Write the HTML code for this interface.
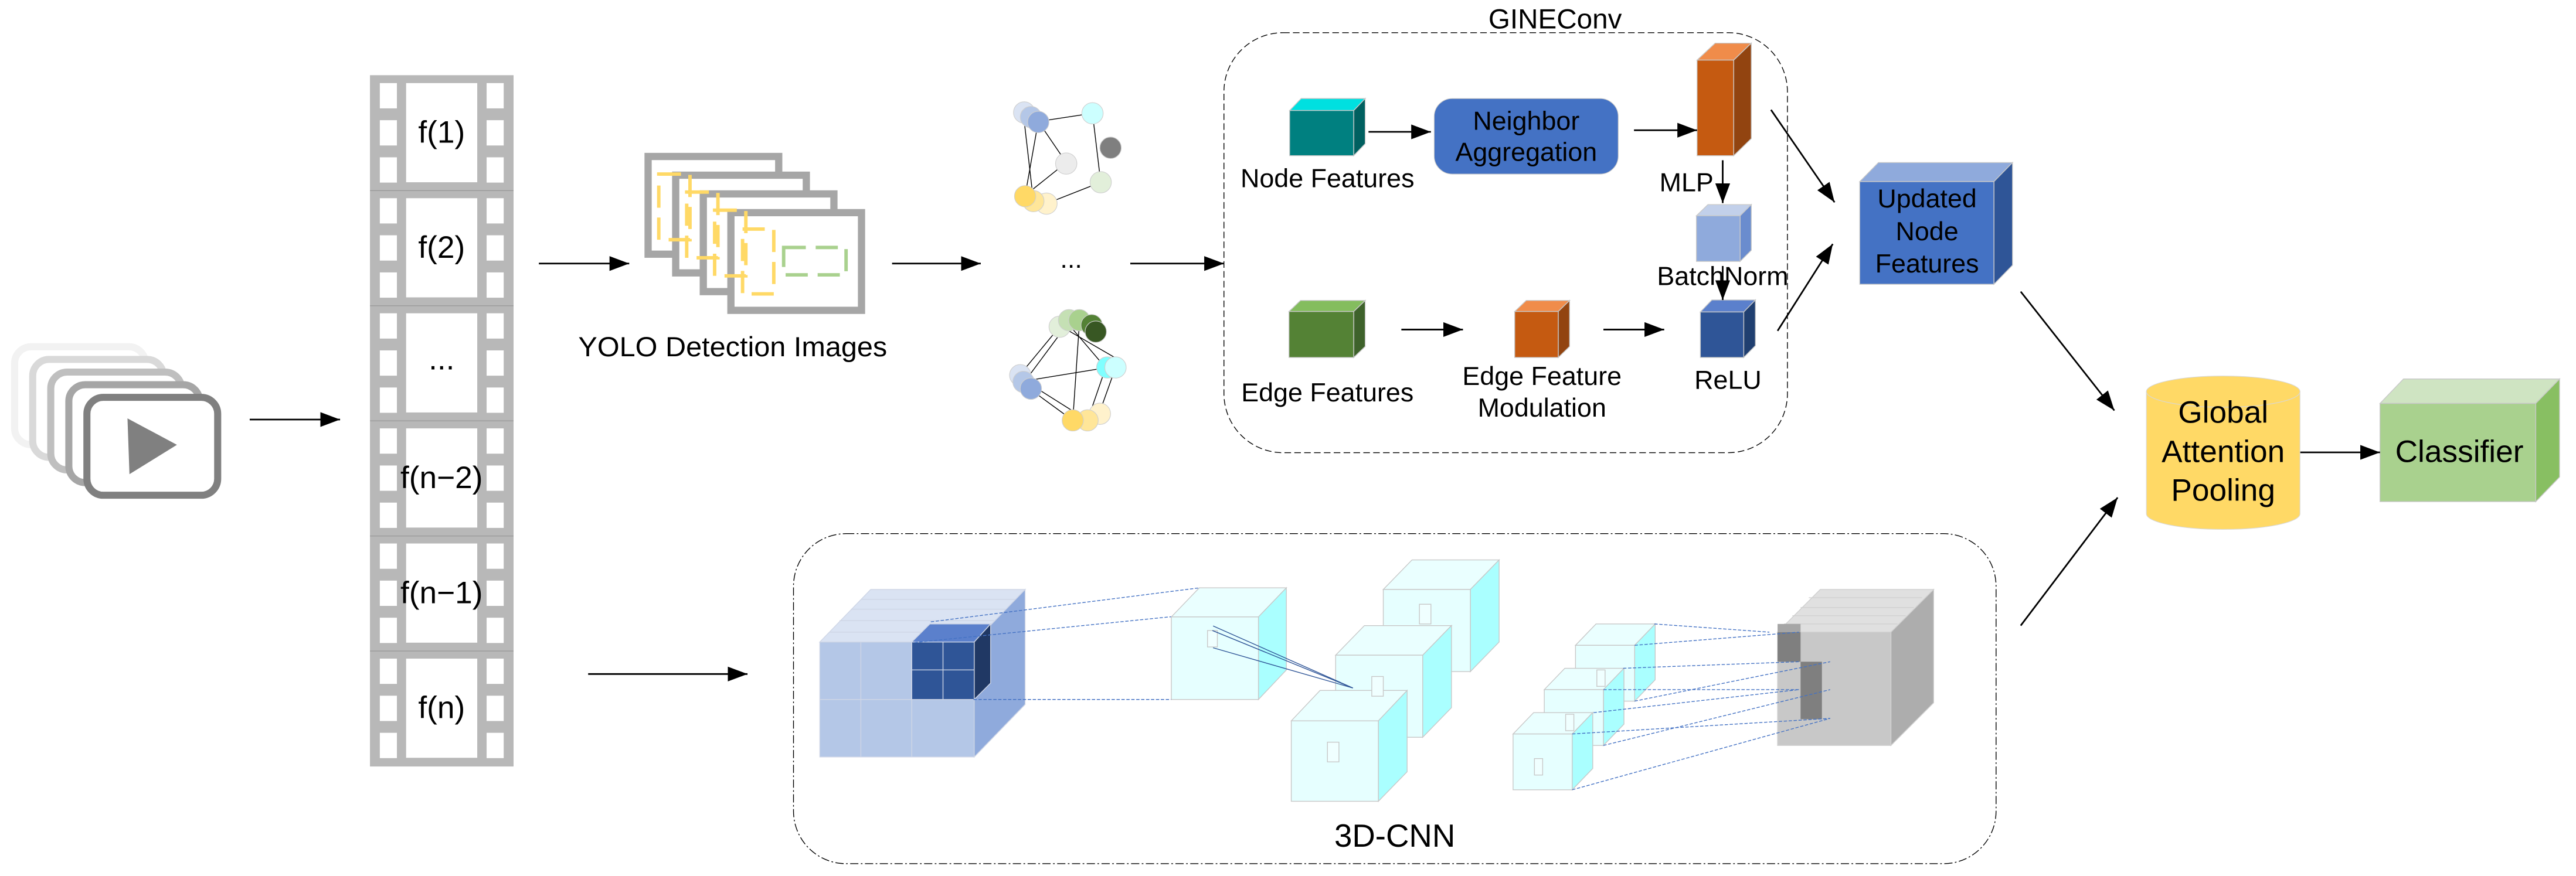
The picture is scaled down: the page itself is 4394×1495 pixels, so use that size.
<!DOCTYPE html>
<html><head><meta charset="utf-8"><style>
html,body{margin:0;padding:0;background:#fff;}
svg{display:block;}
text{font-family:"Liberation Sans",Arial,sans-serif;fill:#000;}
</style></head><body>
<svg width="4394" height="1495" viewBox="0 0 1568 533.5" preserveAspectRatio="none" xmlns="http://www.w3.org/2000/svg">
<defs>
<marker id="ah" viewBox="0 0 12 9" refX="12" refY="4.5" markerWidth="12" markerHeight="9" markerUnits="userSpaceOnUse" orient="auto">
<path d="M0,0 L12,4.5 L0,9 z" fill="#000"/>
</marker>
</defs>
<rect width="1568" height="533.5" fill="#fff"/>

<!-- video icon stack -->
<g fill="#fff" stroke-width="4.3">
<rect x="8.9" y="211.2" width="79.6" height="59.6" rx="10" stroke="#f2f2f2"/>
<rect x="19.9" y="218.9" width="79.6" height="59.6" rx="10" stroke="#d9d9d9"/>
<rect x="30.9" y="226.6" width="79.6" height="59.6" rx="10" stroke="#bfbfbf"/>
<rect x="41.9" y="234.3" width="79.6" height="59.6" rx="10" stroke="#a6a6a6"/>
<rect x="52.9" y="242" width="79.6" height="59.6" rx="10" stroke="#808080"/>
</g>
<path d="M77.6,254.8 L78.8,288.8 L107.7,270.9 z" fill="#808080"/>

<line x1="152" y1="255.5" x2="207" y2="255.5" stroke="#000" stroke-width="1" marker-end="url(#ah)"/>

<!-- film strip -->
<rect x="225.2" y="45.8" width="87.4" height="421" fill="#b8b8b8"/>
<g fill="#fff">
<rect x="247.2" y="50.6" width="43.3" height="60.4"/><rect x="247.2" y="120.7" width="43.3" height="60.4"/><rect x="247.2" y="190.8" width="43.3" height="60.4"/><rect x="247.2" y="260.9" width="43.3" height="60.4"/><rect x="247.2" y="331" width="43.3" height="60.4"/><rect x="247.2" y="401.1" width="43.3" height="60.4"/>
</g>
<g fill="#fff">
<rect x="231.2" y="50.6" width="10.4" height="15.4"/><rect x="231.2" y="73.2" width="10.4" height="15.4"/><rect x="231.2" y="95.8" width="10.4" height="15.4"/>
<rect x="296.2" y="50.6" width="10.4" height="15.4"/><rect x="296.2" y="73.2" width="10.4" height="15.4"/><rect x="296.2" y="95.8" width="10.4" height="15.4"/>
<rect x="231.2" y="120.7" width="10.4" height="15.4"/><rect x="231.2" y="143.3" width="10.4" height="15.4"/><rect x="231.2" y="165.9" width="10.4" height="15.4"/>
<rect x="296.2" y="120.7" width="10.4" height="15.4"/><rect x="296.2" y="143.3" width="10.4" height="15.4"/><rect x="296.2" y="165.9" width="10.4" height="15.4"/>
<rect x="231.2" y="190.8" width="10.4" height="15.4"/><rect x="231.2" y="213.4" width="10.4" height="15.4"/><rect x="231.2" y="236" width="10.4" height="15.4"/>
<rect x="296.2" y="190.8" width="10.4" height="15.4"/><rect x="296.2" y="213.4" width="10.4" height="15.4"/><rect x="296.2" y="236" width="10.4" height="15.4"/>
<rect x="231.2" y="260.9" width="10.4" height="15.4"/><rect x="231.2" y="283.5" width="10.4" height="15.4"/><rect x="231.2" y="306.1" width="10.4" height="15.4"/>
<rect x="296.2" y="260.9" width="10.4" height="15.4"/><rect x="296.2" y="283.5" width="10.4" height="15.4"/><rect x="296.2" y="306.1" width="10.4" height="15.4"/>
<rect x="231.2" y="331" width="10.4" height="15.4"/><rect x="231.2" y="353.6" width="10.4" height="15.4"/><rect x="231.2" y="376.2" width="10.4" height="15.4"/>
<rect x="296.2" y="331" width="10.4" height="15.4"/><rect x="296.2" y="353.6" width="10.4" height="15.4"/><rect x="296.2" y="376.2" width="10.4" height="15.4"/>
<rect x="231.2" y="401.1" width="10.4" height="15.4"/><rect x="231.2" y="423.7" width="10.4" height="15.4"/><rect x="231.2" y="446.3" width="10.4" height="15.4"/>
<rect x="296.2" y="401.1" width="10.4" height="15.4"/><rect x="296.2" y="423.7" width="10.4" height="15.4"/><rect x="296.2" y="446.3" width="10.4" height="15.4"/>
</g>
<g stroke="#9a9a9a" stroke-width="0.5">
<line x1="225.2" y1="116.1" x2="312.6" y2="116.1"/><line x1="225.2" y1="186.2" x2="312.6" y2="186.2"/><line x1="225.2" y1="256.3" x2="312.6" y2="256.3"/><line x1="225.2" y1="326.4" x2="312.6" y2="326.4"/><line x1="225.2" y1="396.5" x2="312.6" y2="396.5"/>
</g>
<g font-size="19" text-anchor="middle">
<text x="268.8" y="86.9">f(1)</text>
<text x="268.8" y="157">f(2)</text>
<text x="268.8" y="225">...</text>
<text x="268.8" y="297.2">f(n−2)</text>
<text x="268.8" y="367.3">f(n−1)</text>
<text x="268.8" y="437.4">f(n)</text>
</g>

<line x1="328" y1="160.5" x2="383" y2="160.5" stroke="#000" stroke-width="1" marker-end="url(#ah)"/>

<!-- YOLO frames -->
<g fill="#fff" stroke="#a6a6a6" stroke-width="4.4">
<rect x="394.5" y="95.3" width="79.5" height="59.5"/>
<rect x="411.3" y="106.7" width="79.5" height="59.5"/>
<rect x="428.1" y="118.1" width="79.5" height="59.5"/>
<rect x="444.9" y="129.5" width="79.5" height="59.5"/>
</g>
<g fill="none" stroke="#ffd966" stroke-width="2.1" stroke-dasharray="13.5,6">
<rect x="401" y="106" width="19" height="40"/>
<rect x="418" y="117" width="19" height="40"/>
<rect x="435" y="128" width="19" height="40"/>
<rect x="452" y="139.5" width="19" height="39.5"/>
</g>
<rect x="477" y="150.7" width="38" height="16.7" fill="none" stroke="#a9d18e" stroke-width="2.1" stroke-dasharray="13.5,6"/>
<text x="446" y="217" font-size="17" text-anchor="middle" textLength="188" lengthAdjust="spacingAndGlyphs">YOLO Detection Images</text>

<line x1="543" y1="160.5" x2="597" y2="160.5" stroke="#000" stroke-width="1" marker-end="url(#ah)"/>

<!-- graph 1 -->
<g stroke="#000" stroke-width="0.5">
<line x1="632" y1="74" x2="665" y2="69"/><line x1="665" y1="69" x2="670" y2="111"/><line x1="623" y1="70" x2="629" y2="122"/><line x1="632" y1="74" x2="624" y2="119"/><line x1="632" y1="74" x2="649" y2="99"/><line x1="649" y1="99" x2="624" y2="119"/><line x1="670" y1="111" x2="637" y2="124"/>
</g>
<g stroke="#cfcfcf" stroke-width="0.4">
<circle cx="623.4" cy="68.5" r="6.5" fill="#dae3f3"/><circle cx="627.5" cy="71.3" r="6.5" fill="#b4c7e7"/><circle cx="632" cy="74.3" r="6.5" fill="#8faadc"/>
<circle cx="665" cy="69" r="6.5" fill="#ccffff"/><circle cx="676" cy="90" r="6.5" fill="#7f7f7f"/><circle cx="649" cy="99.6" r="6.5" fill="#ececec"/><circle cx="670" cy="111" r="6.5" fill="#e2efda"/>
<circle cx="637" cy="124" r="6.5" fill="#fff2cc"/><circle cx="629" cy="122.5" r="6.5" fill="#ffe699"/><circle cx="624" cy="119.5" r="6.5" fill="#ffd966"/>
</g>
<text x="652" y="163" font-size="16" text-anchor="middle">...</text>
<line x1="688" y1="160.5" x2="745" y2="160.5" stroke="#000" stroke-width="1" marker-end="url(#ah)"/>

<!-- graph 2 -->
<g stroke="#000" stroke-width="0.5">
<line x1="645" y1="199" x2="621" y2="228"/><line x1="650" y1="197" x2="624" y2="232"/><line x1="650" y1="197" x2="673" y2="224"/><line x1="648" y1="200" x2="679" y2="218"/><line x1="657" y1="197" x2="653" y2="256"/><line x1="624" y1="232" x2="673" y2="224"/><line x1="624" y1="232" x2="662" y2="256"/><line x1="627" y1="237" x2="653" y2="256"/><line x1="673" y1="224" x2="662" y2="256"/><line x1="679" y1="224" x2="669" y2="252"/>
</g>
<g stroke="#cfcfcf" stroke-width="0.4">
<circle cx="645" cy="199" r="6.5" fill="#e2efda"/><circle cx="650.7" cy="195" r="6.5" fill="#c5e0b4"/><circle cx="657" cy="195" r="6.5" fill="#a9d18e"/><circle cx="664.5" cy="198" r="6.5" fill="#548235"/><circle cx="667" cy="202" r="6.5" fill="#385723"/>
<circle cx="621" cy="228.5" r="6.5" fill="#dae3f3"/><circle cx="623" cy="232.6" r="6.5" fill="#b4c7e7"/><circle cx="627.5" cy="236.7" r="6.5" fill="#8faadc"/>
<circle cx="674" cy="223.8" r="6.5" fill="#7fffff"/><circle cx="679" cy="223.8" r="6.5" fill="#ccffff"/>
<circle cx="669.5" cy="252" r="6.5" fill="#fff2cc"/><circle cx="662" cy="256" r="6.5" fill="#ffe699"/><circle cx="653" cy="256" r="6.5" fill="#ffd966"/>
</g>

<!-- GINEConv box -->
<rect x="745" y="19.9" width="343" height="255.8" rx="36" fill="none" stroke="#000" stroke-width="0.5" stroke-dasharray="4,2"/>
<text x="946.6" y="17.4" font-size="17" text-anchor="middle">GINEConv</text>

<g stroke="#c8c8c8" stroke-width="0.5">
<!-- node features -->
<polygon points="785,67.3 792,60 831,60 824,67.3" fill="#00e0e0"/>
<polygon points="824,67.3 831,60 831,87.5 824,94.8" fill="#006060"/>
<rect x="785" y="67.3" width="39" height="27.5" fill="#008080"/>
<!-- MLP -->
<polygon points="1033,36.6 1044,26.3 1066,26.3 1055.3,36.6" fill="#f08c4a"/>
<polygon points="1055.3,36.6 1066,26.3 1066,84.4 1055.3,94.8" fill="#924410"/>
<rect x="1033" y="36.6" width="22.3" height="58.2" fill="#c55a11"/>
<!-- BatchNorm -->
<polygon points="1032.6,131.4 1039.6,124.6 1066,124.6 1059.2,131.4" fill="#c2d0ea"/>
<polygon points="1059.2,131.4 1066,124.6 1066,152.4 1059.2,159.2" fill="#6a8cce"/>
<rect x="1032.6" y="131.4" width="26.6" height="27.8" fill="#8faadc"/>
<!-- ReLU -->
<polygon points="1035,190 1042,182.7 1068.5,182.7 1061.4,190" fill="#5b80cc"/>
<polygon points="1061.4,190 1068.5,182.7 1068.5,210.5 1061.4,217.7" fill="#203f70"/>
<rect x="1035" y="190" width="26.4" height="27.7" fill="#2f5597"/>
<!-- Edge features -->
<polygon points="784.6,189.7 791.6,183 831,183 824,189.7" fill="#84bd5e"/>
<polygon points="824,189.7 831,183 831,211 824,217.7" fill="#3e622b"/>
<rect x="784.6" y="189.7" width="39.4" height="28" fill="#548235"/>
<!-- EFM -->
<polygon points="922,189.7 929,183 955.4,183 948.5,189.7" fill="#f08c4a"/>
<polygon points="948.5,189.7 955.4,183 955.4,211 948.5,217.7" fill="#924410"/>
<rect x="922" y="189.7" width="26.5" height="28" fill="#c55a11"/>
<!-- Updated node features -->
<polygon points="1132,110.6 1143.4,99 1225,99 1213.7,110.6" fill="#8faadc"/>
<polygon points="1213.7,110.6 1225,99 1225,161.5 1213.7,173.1" fill="#2f5597"/>
<rect x="1132" y="110.6" width="81.7" height="62.5" fill="#4472c4"/>
<!-- Classifier -->
<polygon points="1448.7,245.7 1463,230.8 1558,230.8 1543.5,245.7" fill="#cfe4c2"/>
<polygon points="1543.5,245.7 1558,230.8 1558,290.5 1543.5,305.5" fill="#88bf62"/>
<rect x="1448.7" y="245.7" width="94.8" height="59.8" fill="#a9d18e"/>
</g>

<rect x="873" y="60" width="112" height="46" rx="11" fill="#4472c4" stroke="#c8c8c8" stroke-width="0.4"/>
<g font-size="16" text-anchor="middle">
<text x="929" y="79">Neighbor</text>
<text x="929" y="98">Aggregation</text>
<text x="808" y="114">Node Features</text>
<text x="808" y="244.5">Edge Features</text>
<text x="938.6" y="234.4">Edge Feature</text>
<text x="938.6" y="253.8">Modulation</text>
<text x="1051.8" y="236.7">ReLU</text>
<text x="1048.6" y="173.6">BatchNorm</text>
<text x="1173" y="126.3">Updated</text>
<text x="1173" y="146.3">Node</text>
<text x="1173" y="166">Features</text>
</g>
<text x="1043" y="116.6" font-size="16" text-anchor="end">MLP</text>

<g stroke="#000" stroke-width="1" fill="none">
<line x1="833" y1="80.3" x2="871" y2="80.3" marker-end="url(#ah)"/>
<line x1="994.6" y1="79.3" x2="1033" y2="79.3" marker-end="url(#ah)"/>
<line x1="1048.6" y1="97.6" x2="1048.6" y2="123.7" marker-end="url(#ah)"/>
<line x1="1048.6" y1="162" x2="1048.6" y2="182.7" marker-end="url(#ah)"/>
<line x1="853" y1="200.7" x2="890.5" y2="200.7" marker-end="url(#ah)"/>
<line x1="976" y1="200.7" x2="1013" y2="200.7" marker-end="url(#ah)"/>
<line x1="1078" y1="66.9" x2="1116.7" y2="123.2" marker-end="url(#ah)"/>
<line x1="1082" y1="201.5" x2="1115.6" y2="148.6" marker-end="url(#ah)"/>
<line x1="1230" y1="177.6" x2="1287" y2="250" marker-end="url(#ah)"/>
<line x1="1230" y1="381" x2="1289" y2="303" marker-end="url(#ah)"/>
<line x1="1400" y1="275.5" x2="1448.7" y2="275.5" marker-end="url(#ah)"/>
<line x1="358" y1="410.5" x2="455" y2="410.5" marker-end="url(#ah)"/>
</g>

<!-- GAP cylinder -->
<path d="M1306.5,238.5 L1306.5,312.9 A46.75,9.5 0 0 0 1400,312.9 L1400,238.5 z" fill="#ffd966" stroke="#d8d8d8" stroke-width="0.4"/>
<ellipse cx="1353.25" cy="238.5" rx="46.75" ry="9.5" fill="#ffd966" stroke="#d8d8d8" stroke-width="0.4"/>
<g font-size="19" text-anchor="middle">
<text x="1353.25" y="257.5">Global</text>
<text x="1353.25" y="281.3">Attention</text>
<text x="1353.25" y="305">Pooling</text>
<text x="1497" y="281.3">Classifier</text>
</g>

<!-- 3D-CNN box -->
<rect x="483" y="325" width="732" height="201" rx="32" fill="none" stroke="#000" stroke-width="0.5" stroke-dasharray="5,1.5,1,1.5"/>
<text x="849" y="515.7" font-size="19.5" text-anchor="middle">3D-CNN</text>

<!-- big blue cube -->
<g stroke="#cfd6e6" stroke-width="0.5">
<polygon points="499,391 530,359 624,359 593,391" fill="#dae3f3"/>
<polygon points="593,391 624,359 624,429 593,461" fill="#8faadc"/>
<rect x="499" y="391" width="94" height="70" fill="#b4c7e7"/>
<line x1="499" y1="426" x2="593" y2="426"/><line x1="524" y1="391" x2="524" y2="461"/><line x1="555" y1="391" x2="555" y2="461"/>
<line x1="505" y1="385" x2="599" y2="385"/><line x1="511" y1="378" x2="605" y2="378"/><line x1="518" y1="371" x2="612" y2="371"/><line x1="524" y1="365" x2="618" y2="365"/>
<polygon points="555,391 566,380 603,380 593,391" fill="#5b80cc"/>
<polygon points="593,391 603,380 603,416 593,426" fill="#203864"/>
<rect x="555" y="391" width="38" height="35" fill="#2f5597"/>
<line x1="555" y1="408" x2="593" y2="408"/><line x1="574" y1="391" x2="574" y2="426"/>
</g>

<!-- cyan slabs -->
<g stroke="#c8c8c8" stroke-width="0.5">
<polygon points="713,375.7 730,358 783,358 766,375.7" fill="#eaffff"/>
<polygon points="766,375.7 783,358 783,408 766,426" fill="#aaffff"/>
<rect x="713" y="375.7" width="53" height="50.3" fill="#e6ffff"/>

<polygon points="842,359 859.5,341 912.5,341 895,359" fill="#eaffff"/>
<polygon points="895,359 912.5,341 912.5,391 895,409" fill="#aaffff"/>
<rect x="842" y="359" width="53" height="50" fill="#e6ffff"/>

<polygon points="813,399 830.5,381 883.5,381 866,399" fill="#eaffff"/>
<polygon points="866,399 883.5,381 883.5,431 866,449" fill="#aaffff"/>
<rect x="813" y="399" width="53" height="50" fill="#e6ffff"/>

<polygon points="786,439 803.5,420.5 856.5,420.5 839,439" fill="#eaffff"/>
<polygon points="839,439 856.5,420.5 856.5,470 839,488" fill="#aaffff"/>
<rect x="786" y="439" width="53" height="49" fill="#e6ffff"/>

<polygon points="959,393 971.5,380 1007.5,380 995,393" fill="#eaffff"/>
<polygon points="995,393 1007.5,380 1007.5,414 995,427" fill="#aaffff"/>
<rect x="959" y="393" width="36" height="34" fill="#e6ffff"/>

<polygon points="940,420 952.5,407 988.5,407 976,420" fill="#eaffff"/>
<polygon points="976,420 988.5,407 988.5,441 976,454" fill="#aaffff"/>
<rect x="940" y="420" width="36" height="34" fill="#e6ffff"/>

<polygon points="921,447 933.5,434 969.5,434 957,447" fill="#eaffff"/>
<polygon points="957,447 969.5,434 969.5,468 957,481" fill="#aaffff"/>
<rect x="921" y="447" width="36" height="34" fill="#e6ffff"/>

<rect x="735" y="384" width="6" height="10" fill="#f0ffff"/>
<rect x="864" y="368" width="7" height="12" fill="#f0ffff"/>
<rect x="835" y="412" width="7" height="12" fill="#f0ffff"/>
<rect x="808" y="452" width="7" height="12" fill="#f0ffff"/>
<rect x="972" y="408" width="5" height="10" fill="#f0ffff"/>
<rect x="953" y="435" width="5" height="10" fill="#f0ffff"/>
<rect x="934" y="462" width="5" height="10" fill="#f0ffff"/>
</g>

<!-- gray cube -->
<g stroke="#d0d0d0" stroke-width="0.5">
<polygon points="1082,385 1108,359 1177,359 1151,385" fill="#e0e0e0"/>
<polygon points="1151,385 1177,359 1177,428 1151,454" fill="#adadad"/>
<rect x="1082" y="385" width="69" height="69" fill="#c8c8c8"/>
<line x1="1086" y1="380" x2="1155" y2="380"/><line x1="1091" y1="375" x2="1160" y2="375"/><line x1="1096" y1="370" x2="1165" y2="370"/><line x1="1101" y1="364" x2="1170" y2="364"/>
</g>
<rect x="1082" y="380" width="14" height="5" fill="#a6a6a6"/>
<rect x="1082" y="385" width="14" height="18" fill="#7f7f7f"/>
<rect x="1096" y="403" width="13" height="35" fill="#7f7f7f"/>

<!-- blue dashed connectors -->
<g stroke="#4472c4" stroke-width="0.5" stroke-dasharray="2,1" fill="none">
<line x1="566.6" y1="378.7" x2="729.4" y2="358.1"/>
<line x1="556.6" y1="391.3" x2="712.8" y2="375.6"/>
<line x1="592.6" y1="426" x2="712.8" y2="426"/>
<line x1="1007" y1="380" x2="1077" y2="385"/>
<line x1="995" y1="393" x2="1095" y2="385"/>
<line x1="988" y1="407" x2="1095" y2="403"/>
<line x1="995" y1="427" x2="1114" y2="403"/>
<line x1="976" y1="420" x2="1095" y2="420"/>
<line x1="976" y1="454" x2="1114" y2="420"/>
<line x1="970" y1="434" x2="1095" y2="420"/>
<line x1="957" y1="447" x2="1114" y2="437.5"/>
<line x1="957" y1="481" x2="1114" y2="437.5"/>
</g>
<g stroke="#2f5597" stroke-width="0.5">
<line x1="738.4" y1="381.2" x2="823.5" y2="419"/>
<line x1="738" y1="384" x2="823.5" y2="419"/>
<line x1="738.4" y1="394.5" x2="823.5" y2="419"/>
</g>
</svg>
</body></html>
